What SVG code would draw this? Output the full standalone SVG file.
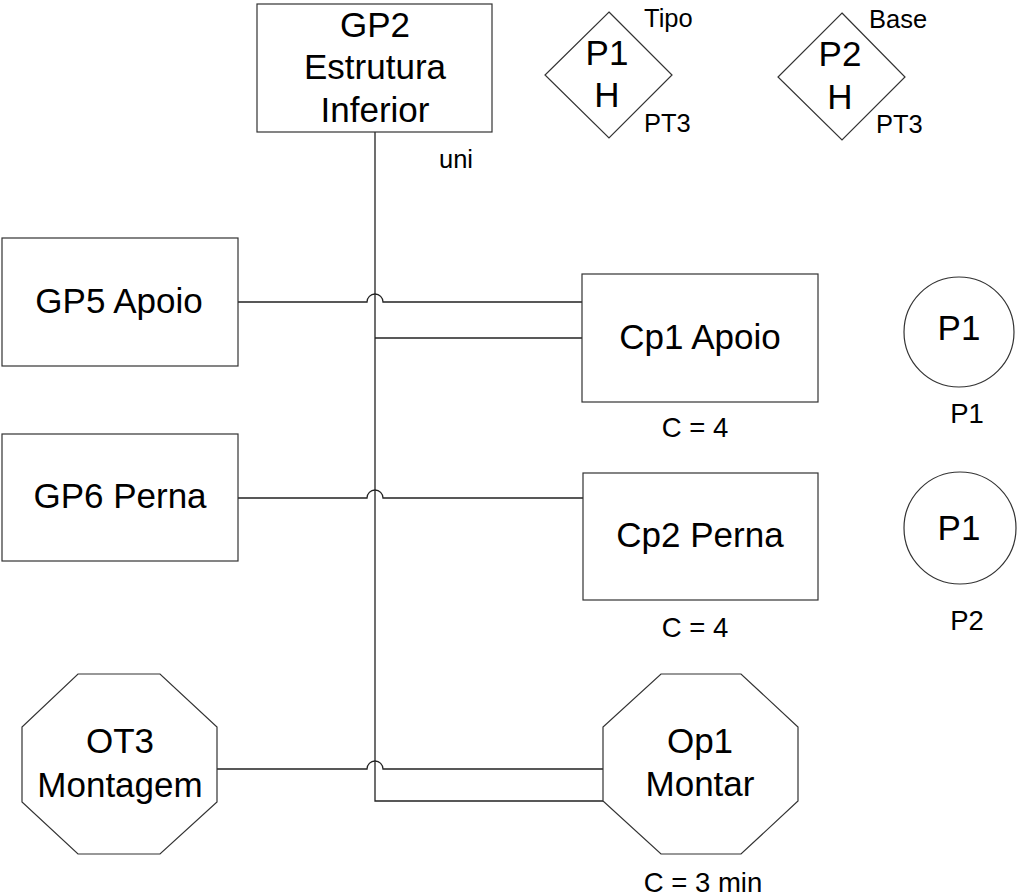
<svg xmlns="http://www.w3.org/2000/svg" width="1017" height="896" viewBox="0 0 1017 896">
  <style>
    .shape { fill: #ffffff; stroke: #333333; stroke-width: 1.2; }
    .wire { fill: none; stroke: #222222; stroke-width: 1.3; }
    text { font-family: "Liberation Sans", Arial, sans-serif; fill: #000000; }
    .big { font-size: 35px; text-anchor: middle; }
    .small { font-size: 25.5px; }
    .mid { font-size: 27.5px; text-anchor: middle; }
  </style>
  <rect width="1017" height="896" fill="#ffffff"/>

  <!-- connectors -->
  <g id="connectors">
    <path class="wire" d="M375,132 V801 H603"/>
    <path class="wire" d="M375,338 H582"/>
    <path class="wire" d="M238,302 H367 A8,8 0 0 1 383,302 H582"/>
    <path class="wire" d="M238,498 H367 A8,8 0 0 1 383,498 H583"/>
    <path class="wire" d="M217,769 H367 A8,8 0 0 1 383,769 H603"/>
  </g>

  <g id="gp2">
    <rect class="shape" x="257" y="4" width="235" height="128"/>
    <text class="big" x="375" y="37">GP2</text>
    <text class="big" x="375" y="79">Estrutura</text>
    <text class="big" x="375" y="122">Inferior</text>
    <text class="small" x="439" y="168">uni</text>
  </g>

  <g id="p1-tipo">
    <polygon class="shape" points="609,12 672,75 609,138 545,75"/>
    <text class="big" x="607" y="65">P1</text>
    <text class="big" x="607" y="107">H</text>
    <text class="small" x="644" y="27">Tipo</text>
    <text class="small" x="644" y="132">PT3</text>
  </g>

  <g id="p2-base">
    <polygon class="shape" points="842,13 905,77 842,140 778,77"/>
    <text class="big" x="840" y="66">P2</text>
    <text class="big" x="840" y="109">H</text>
    <text class="small" x="869" y="28">Base</text>
    <text class="small" x="876" y="133">PT3</text>
  </g>

  <g id="gp5">
    <rect class="shape" x="2" y="238" width="236" height="128"/>
    <text class="big" x="119" y="313">GP5 Apoio</text>
  </g>

  <g id="cp1">
    <rect class="shape" x="582" y="274" width="236" height="128"/>
    <text class="big" x="700" y="349">Cp1 Apoio</text>
    <text class="mid" x="695" y="437">C = 4</text>
  </g>

  <g id="gp6">
    <rect class="shape" x="2" y="434" width="236" height="127"/>
    <text class="big" x="120" y="508">GP6 Perna</text>
  </g>

  <g id="cp2">
    <rect class="shape" x="583" y="473" width="235" height="127"/>
    <text class="big" x="700" y="547">Cp2 Perna</text>
    <text class="mid" x="695" y="637">C = 4</text>
  </g>

  <g id="circle-p1">
    <circle class="shape" cx="959" cy="332" r="55"/>
    <text class="big" x="959" y="340">P1</text>
    <text class="mid" x="967" y="423">P1</text>
  </g>

  <g id="circle-p2">
    <circle class="shape" cx="960" cy="528" r="56"/>
    <text class="big" x="959" y="540">P1</text>
    <text class="mid" x="967" y="630">P2</text>
  </g>

  <g id="ot3">
    <polygon class="shape" points="78,674 160,674 217,727 217,802 160,854 78,854 22,802 22,727"/>
    <text class="big" x="120" y="753">OT3</text>
    <text class="big" x="120" y="797">Montagem</text>
  </g>

  <g id="op1">
    <polygon class="shape" points="661,674 741,674 798,727 798,801 741,854 661,854 603,801 603,727"/>
    <text class="big" x="700" y="753">Op1</text>
    <text class="big" x="700" y="796">Montar</text>
    <text class="mid" x="703" y="892">C = 3 min</text>
  </g>
</svg>
